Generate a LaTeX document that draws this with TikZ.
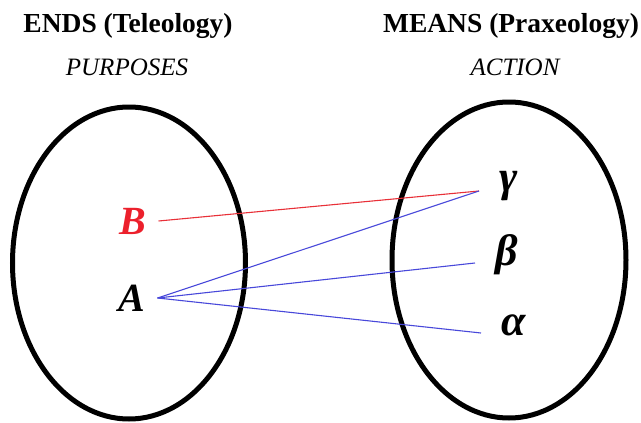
\documentclass[tikz,border=0pt]{standalone}
\usepackage{fontspec}
\setmainfont{LiberationSerif}[Extension=.ttf,
  UprightFont=*-Regular, BoldFont=*-Bold,
  ItalicFont=*-Italic, BoldItalicFont=*-BoldItalic]
\definecolor{linkred}{RGB}{232,48,56}
\definecolor{linkblue}{RGB}{72,72,218}
\definecolor{letterred}{RGB}{236,32,44}
\begin{document}
\begin{tikzpicture}[x=1pt,y=1pt,
  set/.style={line width=5pt},
  heading/.style={font=\fontsize{27.5}{30}\selectfont\bfseries, anchor=base, inner sep=0pt},
  subheading/.style={font=\fontsize{25}{28}\selectfont\itshape, anchor=base, inner sep=0pt},
  letter/.style={font=\fontsize{40}{44}\selectfont\bfseries\itshape, inner sep=12pt},
  greek/.style={font=\fontsize{44}{48}\selectfont\bfseries\itshape, inner xsep=20pt, inner ysep=2pt},
  redlink/.style={draw=linkred, line width=1.1pt},
  bluelink/.style={draw=linkblue, line width=1.1pt}]
\useasboundingbox (0,0) rectangle (641,-423);

% the two sets
\draw[set] (129,-263) ellipse [x radius=116.5, y radius=156];
\draw[set] (509,-260) ellipse [x radius=117, y radius=158];

% titles
\node[heading] (ends) at (128,-32) {ENDS (Teleology)};
\node[subheading] (purposes) at (127,-75) {PURPOSES};
\node[heading] (means) at (511,-32) {MEANS (Praxeology)};
\node[subheading] (action) at (515,-75) {ACTION};

% elements
\node[letter, text=letterred] (B) at (133,-221) {B};
\node[letter] (A) at (132,-298) {A};
\node[greek, anchor=base west] (gamma) at (479,-191) {γ};
\node[greek, anchor=mid west] (beta) at (475,-263) {β};
\node[greek, anchor=mid west] (alpha) at (481,-333) {α};

\draw[redlink] (B.east) -- (gamma.base west);
\draw[bluelink] (A.east) -- (gamma.base west);
\draw[bluelink] (A.east) -- (beta.mid west);
\draw[bluelink] (A.east) -- (alpha.mid west);
\end{tikzpicture}
\end{document}
